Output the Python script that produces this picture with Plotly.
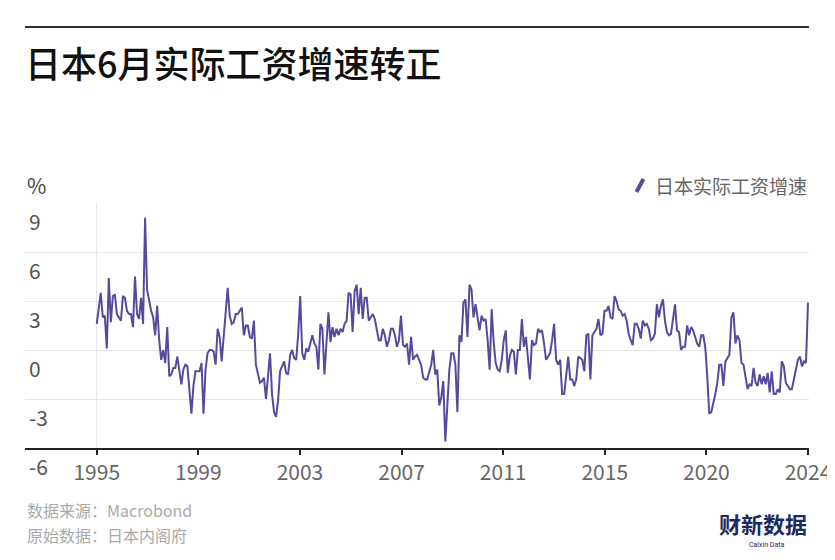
import plotly.graph_objects as go

wage_growth = [
    1.6, 2.6, 3.5, 2.0, 2.1, 0.1, 4.4, 1.7, 3.3, 3.4,
    2.2, 2.0, 1.8, 3.3, 3.2, 2.4, 2.2, 2.2, 1.4, 4.5,
    2.2, 1.9, 3.2, 1.6, 8.1, 3.7, 2.9, 2.4, 2.0, 0.9,
    2.7, 0.6, -0.6, 0.0, -0.8, 1.4, -1.6, -1.5, -1.1, -1.1,
    -0.4, -1.2, -2.1, -1.2, -0.9, -1.0, -2.4, -3.9, -2.2, -1.3,
    -1.3, -1.3, -0.8, -3.9, -1.2, -0.2, 0.0, 0.0, -0.1, -0.9,
    1.3, 0.8, -0.7, 0.8, 2.3, 3.8, 2.1, 1.6, 1.7, 2.2,
    2.2, 2.4, 2.6, 0.9, 1.5, 1.5, 0.8, 0.7, 1.8, -0.9,
    -1.4, -2.0, -1.9, -1.7, -3.0, -1.4, -0.2, -2.7, -3.8, -4.1,
    -3.1, -1.3, -1.0, -0.7, -1.4, -1.5, -0.3, 0.0, -0.5, -0.6,
    1.0, 3.3, -0.2, -0.6, 0.1, -0.1, 0.4, 0.9, 0.4, 0.2,
    -1.2, 1.6, 1.3, -1.5, 0.4, 2.3, 0.5, 1.4, 0.8, 1.3,
    0.9, 1.3, 1.1, 1.6, 1.8, 3.5, 3.4, 1.1, 3.6, 4.0,
    2.2, 3.8, 1.9, 3.2, 3.2, 1.8, 2.0, 2.2, 1.9, 1.2,
    0.6, 0.6, 1.3, 0.9, 0.2, 0.6, 1.3, 1.3, 0.9, 0.2,
    0.6, 2.1, 0.3, 0.2, 0.4, -0.9, 0.8, -0.6, -0.4, -0.3,
    -0.6, -0.9, -1.7, -1.8, -1.8, -1.3, -0.9, 0.0, -1.5, -1.2,
    -3.4, -2.9, -1.9, -5.6, -3.3, -1.2, -0.2, -0.2, -0.9, -3.8,
    0.9, 0.5, 2.9, 3.1, 0.8, 4.0, 3.7, 2.0, 2.8, 2.0,
    1.2, 2.1, 1.8, 1.9, 0.6, -1.2, 2.5, 0.5, -0.8, -1.2,
    -1.3, -0.6, 0.6, 1.2, -1.4, -0.4, 0.0, -0.1, -1.5, 0.0,
    0.0, 1.9, 0.2, 0.8, -0.5, -1.8, 0.6, 0.3, 0.4, 1.3,
    1.1, 1.2, 0.4, -0.6, -0.4, -0.2, 0.6, 1.6, -0.6, -0.9,
    -0.6, -2.7, -2.7, -1.5, -0.4, -1.8, -1.8, -2.2, -1.8, -0.4,
    -0.5, -0.6, -1.3, 0.9, 1.0, -1.8, 0.9, 1.1, 1.3, 1.9,
    0.9, 1.0, 2.4, 2.4, 2.7, 2.0, 1.9, 3.3, 3.0, 2.5,
    2.4, 2.1, 2.2, 1.8, 1.0, 0.6, 0.3, 1.6, 1.6, 1.3,
    0.7, 1.8, 1.5, 1.6, 1.3, 0.6, 0.7, 1.0, 2.8, 2.0,
    2.7, 3.1, 1.8, 1.1, 0.9, 1.0, 1.8, 2.8, 1.2, 1.1,
    0.0, 0.2, 0.2, 1.5, 0.9, 1.4, 1.2, 0.8, 0.4, 0.2,
    0.9, 0.9, 0.2, -1.6, -3.9, -3.8, -3.3, -2.7, -2.0, -0.9,
    -0.9, -2.2, -0.7, -0.5, -0.3, 2.0, 2.3, 0.4, 0.9, 0.6,
    -0.8, -0.9, -1.6, -2.4, -2.1, -2.2, -1.1, -2.0, -2.2, -1.5,
    -2.1, -1.6, -2.1, -1.4, -2.6, -1.3, -2.7, -2.7, -2.4, -2.6,
    -0.7, -1.0, -2.0, -2.2, -2.4, -2.4, -1.8, -1.2, -0.6, -0.4,
    -1.0, -0.7, -0.8, 2.9,
]
year_labels = ["1995", "1999", "2003", "2007", "2011", "2015", "2020", "2024"]
y_ticks = [-6, -3, 0, 3, 6, 9]
y_tick_text = ["-6", "-3", "0", "3", "6", "9"]

series_name = "日本实际工资增速"
title = "日本6月实际工资增速转正"
source_lines = ["数据来源：Macrobond", "原始数据：日本内阁府"]

LINE_COLOR = "#554b9c"
FONT = "Noto Sans CJK SC"
W, H = 835, 560
OFF = 8  # page body margin, the figure is drawn 8px in from the corner

months = list(range(len(wage_growth)))
last = months[-1]
step = last / (len(year_labels) - 1)
tick_pos = [k * step for k in range(len(year_labels))]

fig = go.Figure()
fig.add_trace(go.Scatter(
    x=months, y=wage_growth, mode="lines", name=series_name,
    line=dict(color=LINE_COLOR, width=2), showlegend=False,
))

# plot area on screen: x 25..811, y 203..448
fig.update_layout(
    width=W, height=H, autosize=False,
    margin=dict(l=25 - OFF, r=W - (811 - OFF), t=203 - OFF, b=H - (448 - OFF)),
    plot_bgcolor="white", paper_bgcolor="white",
    font=dict(family=FONT, color="#555"),
    title=dict(
        text=title, x=(25 - OFF) / W, xref="container", xanchor="left",
        y=1 - (65 - OFF) / H, yref="container", yanchor="middle",
        font=dict(size=36, color="#111", family=FONT, weight=500),
    ),
)

fig.update_xaxes(
    range=[-35.6, last + 0.5],
    tickvals=tick_pos, ticktext=year_labels,
    showgrid=False,
    zeroline=True, zerolinecolor="#e6e6e6", zerolinewidth=1,
    showline=True, linecolor="#222", linewidth=2,
    ticks="outside", ticklen=5, tickwidth=2, tickcolor="#222",
    tickfont=dict(size=21, color="#666"),
)
fig.update_yaxes(
    range=[-6, 9], tickvals=y_ticks, ticktext=y_tick_text,
    showgrid=True, gridcolor="#e6e6e6", gridwidth=1,
    zeroline=False, showline=False,
    ticklabelposition="inside", ticklabelshift=20, ticklabelstandoff=1,
    ticklabeloverflow="allow",
    tickfont=dict(size=21, color="#555"),
)


def py(pix):
    return (448 - pix) / 245


def px(pix):
    return (pix - 25) / 786


# rule above title
fig.add_shape(type="line", xref="paper", yref="paper",
              x0=0, x1=1, y0=py(27), y1=py(27),
              line=dict(color="#333", width=2))

# unit label
fig.add_annotation(text="%", xref="paper", yref="paper", x=0, y=py(185),
                   xanchor="left", yanchor="middle", showarrow=False,
                   font=dict(size=21, color="#444"))

# legend: slanted stroke + label
fig.add_shape(type="line", xref="paper", yref="paper",
              x0=px(638), x1=px(645), y0=py(192), y1=py(179),
              line=dict(color=LINE_COLOR, width=4))
fig.add_annotation(text=series_name, xref="paper", yref="paper", x=1, y=py(185),
                   xanchor="right", yanchor="middle", showarrow=False,
                   font=dict(size=19, color="#666"))

# footer
for i, line in enumerate(source_lines):
    fig.add_annotation(text=line, xref="paper", yref="paper", x=0, y=py(510 + 25 * i),
                       xanchor="left", yanchor="middle", showarrow=False,
                       font=dict(size=16, color="#aaa"))

fig.add_annotation(text="<b>财新数据</b>", xref="paper", yref="paper", x=1, y=py(523),
                   xanchor="right", yanchor="middle", showarrow=False,
                   font=dict(size=22, color="#1c2a5e"))
fig.add_annotation(text="Caixin Data", xref="paper", yref="paper", x=px(769), y=py(545),
                   xanchor="center", yanchor="middle", showarrow=False,
                   font=dict(size=7, color="#1c2a5e", family="Roboto"))

fig.write_html("out.html")
